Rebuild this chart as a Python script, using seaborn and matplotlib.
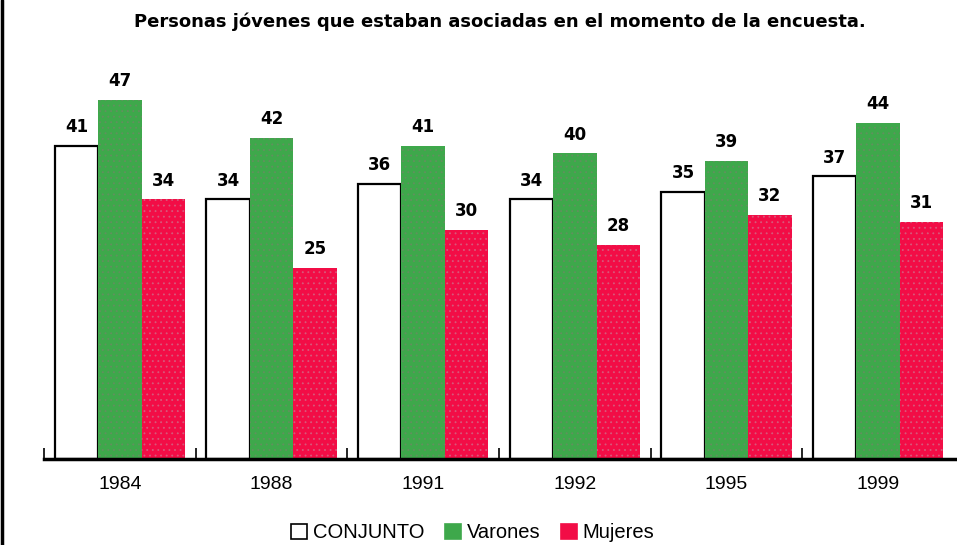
import pandas as pd
import seaborn as sns
import matplotlib.pyplot as plt
from matplotlib.lines import Line2D
from matplotlib.patches import Patch

# values
years = ["1984", "1988", "1991", "1992", "1995", "1999"]
conjunto = [41, 34, 36, 34, 35, 37]
varones = [47, 42, 41, 40, 39, 44]
mujeres = [34, 25, 30, 28, 32, 31]
series = ["CONJUNTO", "Varones", "Mujeres"]
colors = ["#ffffff", "#3ea84b", "#f20d46"]
dots = [None, "#63905f", "#d8587a"]

title = "Personas jóvenes que estaban asociadas en el momento de la encuesta."

df = pd.DataFrame({
    "year": years * 3,
    "value": conjunto + varones + mujeres,
    "serie": [series[0]] * 6 + [series[1]] * 6 + [series[2]] * 6,
})

sns.set_style("white")
plt.rcParams["font.family"] = ["DejaVu Sans"]
plt.rcParams["text.color"] = "black"
plt.rcParams["xtick.color"] = "black"
plt.rcParams["xtick.labelcolor"] = "black"
plt.rcParams["hatch.linewidth"] = 0.6

fig = plt.figure(figsize=(9.57, 5.45), dpi=100)
ax = fig.add_axes([44 / 957, 1 - 459 / 545, (957 - 44) / 957, (459 - 77) / 545])

sns.barplot(data=df, x="year", y="value", hue="serie", hue_order=series,
            palette=colors, width=0.86, ax=ax, legend=False, saturation=1)

for cont, col, dc in zip(ax.containers, colors, dots):
    for bar in cont:
        if dc is None:
            bar.set_edgecolor("black")
            bar.set_linewidth(1.6)
        else:
            bar.set_edgecolor(dc)
            bar.set_linewidth(0)
            bar.set_hatch("...")
    ax.bar_label(cont, padding=7, fontsize=12, fontweight="bold", color="black")

ax.set_xlim(-0.5, 5.5 + 0.02)
ax.set_ylim(0, 50)
ax.set_xlabel("")
ax.set_ylabel("")
ax.set_yticks([])
for s in ["top", "right", "left"]:
    ax.spines[s].set_visible(False)
ax.spines["bottom"].set_linewidth(2.5)
ax.spines["bottom"].set_color("black")

ax.tick_params(axis="x", which="major", length=0, labelsize=14, pad=12)
for lab in ax.get_xticklabels():
    lab.set_fontfamily("Liberation Sans")
ax.set_xticks([i - 0.5 for i in range(6)], minor=True)
ax.tick_params(axis="x", which="minor", bottom=True, direction="in", length=8,
               width=1.2, color="black")

fig.text(0.522, 1 - 22 / 545, title, ha="center", va="center",
         fontsize=13, fontweight="bold", color="black")

handles = [Patch(facecolor=c, edgecolor="black" if c == "#ffffff" else c, linewidth=1.2)
           for c in colors]
fig.legend(handles, series, loc="center", bbox_to_anchor=(0.494, 1 - 533 / 545),
           ncol=3, frameon=False, handlelength=0.8, handleheight=0.8,
           handletextpad=0.3, columnspacing=1.0, labelcolor="black",
           prop={"family": "Liberation Sans", "size": 14.5})

# left border line of the original image
fig.add_artist(Line2D([0.002, 0.002], [0, 1], transform=fig.transFigure,
                      color="black", linewidth=2.5))

plt.savefig("out.png", dpi=100)
